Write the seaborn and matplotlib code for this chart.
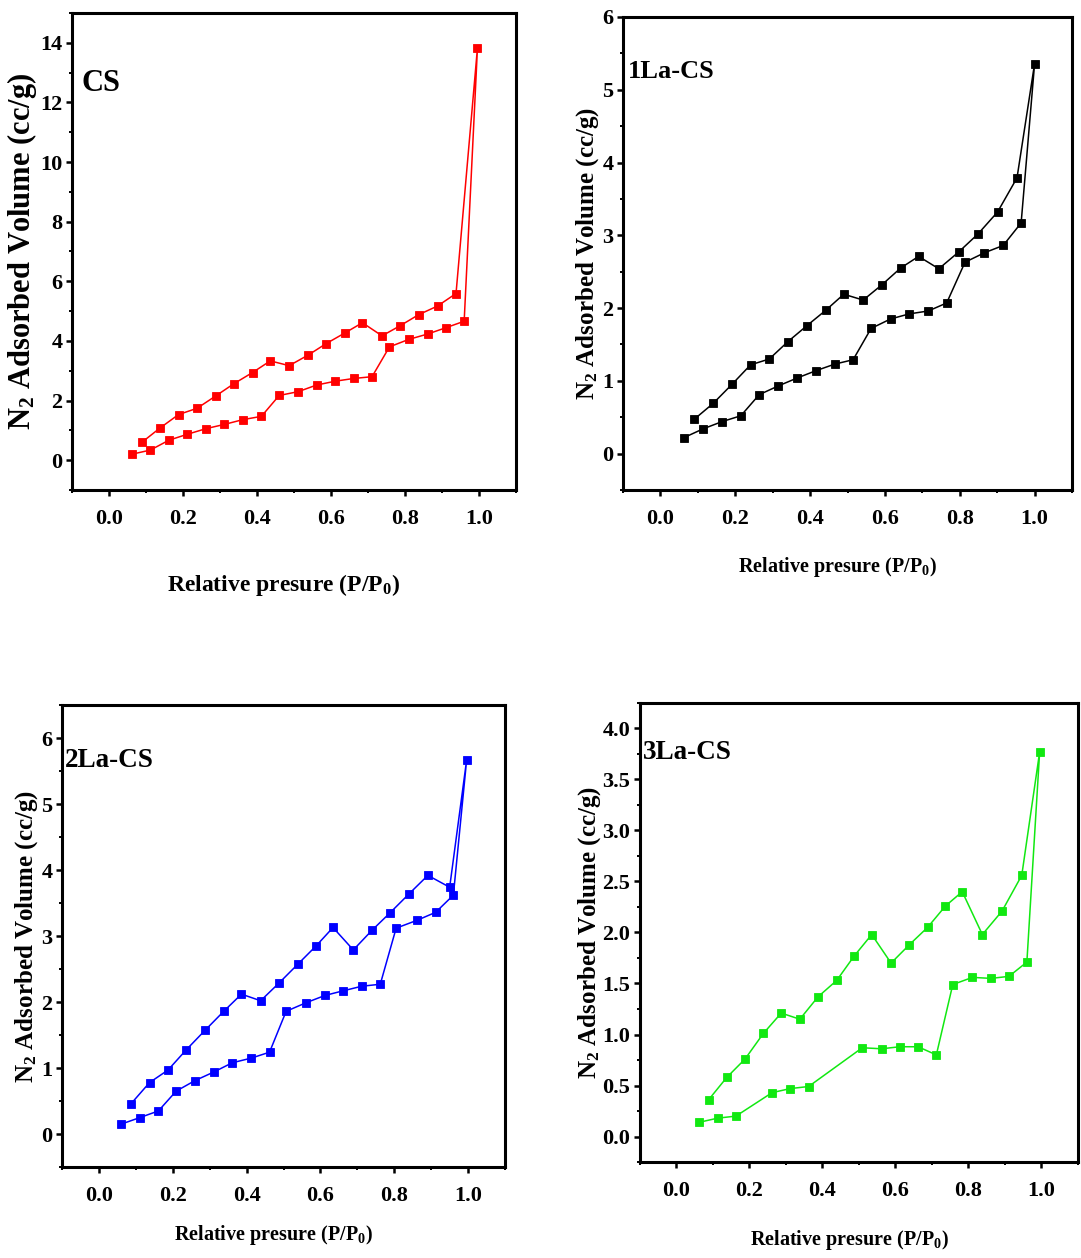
import matplotlib
matplotlib.use("Agg")
import matplotlib.pyplot as plt
from matplotlib.ticker import MultipleLocator, FormatStrFormatter
import pandas as pd
import seaborn as sns

# ---- N2 adsorption / desorption isotherms ----
# CS
cs_p_ads = [0.062, 0.112, 0.162, 0.212, 0.263, 0.312, 0.362, 0.412, 0.460, 0.512,
            0.561, 0.612, 0.661, 0.711, 0.758, 0.810, 0.861, 0.910, 0.960, 0.996]
cs_v_ads = [0.20, 0.34, 0.67, 0.87, 1.06, 1.20, 1.36, 1.47, 2.17, 2.30,
            2.52, 2.65, 2.74, 2.80, 3.80, 4.05, 4.23, 4.44, 4.66, 13.84]
cs_p_des = [0.938, 0.888, 0.837, 0.787, 0.738, 0.685, 0.638, 0.587, 0.539, 0.487,
            0.436, 0.388, 0.337, 0.288, 0.238, 0.188, 0.138, 0.089]
cs_v_des = [5.59, 5.17, 4.88, 4.51, 4.17, 4.61, 4.27, 3.91, 3.53, 3.17,
            3.33, 2.94, 2.56, 2.15, 1.74, 1.53, 1.08, 0.60]

# 1La-CS
la1_p_ads = [0.063, 0.114, 0.165, 0.215, 0.264, 0.315, 0.366, 0.416, 0.466, 0.515,
             0.563, 0.615, 0.665, 0.716, 0.765, 0.814, 0.866, 0.916, 0.964, 1.000]
la1_v_ads = [0.22, 0.34, 0.44, 0.52, 0.81, 0.93, 1.04, 1.14, 1.23, 1.29,
             1.72, 1.85, 1.92, 1.96, 2.07, 2.63, 2.76, 2.86, 3.17, 5.36]
la1_p_des = [0.953, 0.901, 0.849, 0.797, 0.744, 0.690, 0.642, 0.592, 0.542, 0.490,
             0.442, 0.392, 0.341, 0.291, 0.241, 0.191, 0.141, 0.090]
la1_v_des = [3.79, 3.32, 3.02, 2.77, 2.54, 2.71, 2.55, 2.32, 2.11, 2.19,
             1.97, 1.76, 1.54, 1.30, 1.22, 0.95, 0.69, 0.47]

# 2La-CS
la2_p_ads = [0.060, 0.111, 0.161, 0.209, 0.260, 0.311, 0.361, 0.412, 0.462, 0.507,
             0.561, 0.612, 0.661, 0.712, 0.762, 0.805, 0.862, 0.912, 0.960, 0.996]
la2_v_ads = [0.15, 0.25, 0.35, 0.65, 0.81, 0.94, 1.08, 1.15, 1.24, 1.86,
             1.99, 2.10, 2.17, 2.24, 2.27, 3.12, 3.24, 3.36, 3.62, 5.67]
la2_p_des = [0.950, 0.891, 0.840, 0.788, 0.740, 0.689, 0.634, 0.588, 0.538, 0.488,
             0.438, 0.386, 0.338, 0.287, 0.237, 0.187, 0.137, 0.087]
la2_v_des = [3.74, 3.92, 3.64, 3.35, 3.09, 2.79, 3.13, 2.85, 2.57, 2.29,
             2.02, 2.12, 1.86, 1.57, 1.28, 0.97, 0.78, 0.46]

# 3La-CS
la3_p_ads = [0.063, 0.113, 0.163, 0.262, 0.312, 0.362, 0.509, 0.562, 0.612, 0.662,
             0.712, 0.757, 0.811, 0.862, 0.911, 0.960, 0.995]
la3_v_ads = [0.14, 0.18, 0.20, 0.43, 0.47, 0.49, 0.87, 0.86, 0.88, 0.88,
             0.80, 1.49, 1.56, 1.55, 1.57, 1.71, 3.77]
la3_p_des = [0.946, 0.892, 0.838, 0.783, 0.737, 0.688, 0.638, 0.588, 0.535, 0.487,
             0.439, 0.388, 0.338, 0.287, 0.238, 0.188, 0.138, 0.088]
la3_v_des = [2.56, 2.21, 1.98, 2.40, 2.26, 2.05, 1.88, 1.70, 1.98, 1.77,
             1.53, 1.37, 1.15, 1.21, 1.01, 0.76, 0.58, 0.36]

sample_names = ["CS", "1La-CS", "2La-CS", "3La-CS"]
sample_colors = ["#ff0000", "#000000", "#0000ff", "#11e811"]

sns.set_theme(style="ticks")
plt.rcParams.update({
    "font.family": ["Liberation Serif", "DejaVu Serif"],
    "font.weight": "bold",
    "mathtext.fontset": "custom",
    "mathtext.rm": "Liberation Serif:bold",
    "mathtext.bf": "Liberation Serif:bold",
    "mathtext.it": "Liberation Serif:bold:italic",
    "text.color": "black",
    "axes.labelcolor": "black",
    "axes.linewidth": 2.2,
    "axes.edgecolor": "black",
    "xtick.direction": "out",
    "ytick.direction": "out",
    "xtick.color": "black",
    "ytick.color": "black",
    "xtick.labelcolor": "black",
    "ytick.labelcolor": "black",
})

fig = plt.figure(figsize=(10.81, 12.58), dpi=100)

panels = [
    dict(rect=[0.0666, 0.6105, 0.4107, 0.3792],
         p_ads=cs_p_ads, v_ads=cs_v_ads, p_des=cs_p_des, v_des=cs_v_des,
         ylim=(-1, 15), ymaj=2, ymin=1, yfmt="%d",
         label_xy=(0.0225, 0.853), label_fs=22,
         xlab_fs=17, xlab_y=-0.200, ylab_fs=22, ylab_x=-0.113),
    dict(rect=[0.5763, 0.6105, 0.4154, 0.3760],
         p_ads=la1_p_ads, v_ads=la1_v_ads, p_des=la1_p_des, v_des=la1_v_des,
         ylim=(-0.5, 6), ymaj=1, ymin=0.5, yfmt="%d",
         label_xy=(0.011, 0.884), label_fs=19,
         xlab_fs=14.5, xlab_y=-0.162, ylab_fs=18, ylab_x=-0.078),
    dict(rect=[0.0574, 0.0723, 0.4098, 0.3672],
         p_ads=la2_p_ads, v_ads=la2_v_ads, p_des=la2_p_des, v_des=la2_v_des,
         ylim=(-0.5, 6.5), ymaj=1, ymin=0.5, yfmt="%d",
         label_xy=(0.007, 0.881), label_fs=19.5,
         xlab_fs=14.5, xlab_y=-0.147, ylab_fs=18, ylab_x=-0.079),
    dict(rect=[0.5920, 0.0763, 0.4052, 0.3649],
         p_ads=la3_p_ads, v_ads=la3_v_ads, p_des=la3_p_des, v_des=la3_v_des,
         ylim=(-0.25, 4.25), ymaj=0.5, ymin=0.25, yfmt="%.1f",
         label_xy=(0.007, 0.893), label_fs=19.5,
         xlab_fs=14.5, xlab_y=-0.170, ylab_fs=18, ylab_x=-0.114),
]

for name, color, pan in zip(sample_names, sample_colors, panels):
    ax = fig.add_axes(pan["rect"])
    # adsorption branch followed by the desorption branch, drawn as one path
    df = pd.DataFrame({
        "p": list(pan["p_ads"]) + list(pan["p_des"]),
        "v": list(pan["v_ads"]) + list(pan["v_des"]),
    })
    sns.lineplot(data=df, x="p", y="v", sort=False, estimator=None, ax=ax,
                 color=color, linewidth=1.1, marker="s", markersize=5.8,
                 markeredgecolor=color, markeredgewidth=0.6)

    ax.set_xlim(-0.1, 1.1)
    ax.set_ylim(*pan["ylim"])
    ax.xaxis.set_major_locator(MultipleLocator(0.2))
    ax.xaxis.set_minor_locator(MultipleLocator(0.1))
    ax.xaxis.set_major_formatter(FormatStrFormatter("%.1f"))
    ax.yaxis.set_major_locator(MultipleLocator(pan["ymaj"]))
    ax.yaxis.set_minor_locator(MultipleLocator(pan["ymin"]))
    ax.yaxis.set_major_formatter(FormatStrFormatter(pan["yfmt"]))

    for side in ["top", "right", "bottom", "left"]:
        ax.spines[side].set_visible(True)
        ax.spines[side].set_linewidth(2.2)
        ax.spines[side].set_color("black")
    ax.tick_params(axis="both", which="major", length=4, width=1.8,
                   labelsize=16, top=False, right=False, colors="black")
    ax.tick_params(axis="x", which="major", pad=10)
    ax.tick_params(axis="y", which="major", pad=3)
    ax.tick_params(axis="both", which="minor", length=2.5, width=1.4,
                   top=False, right=False, colors="black")
    for lab in ax.get_xticklabels() + ax.get_yticklabels():
        lab.set_fontweight("bold")

    ax.set_xlabel("Relative presure (P/P$_{0}$)", fontsize=pan["xlab_fs"],
                  fontweight="bold", color="black")
    ax.xaxis.set_label_coords(0.477, pan["xlab_y"])
    ax.xaxis.label.set_verticalalignment("center")
    ax.set_ylabel("N$_{2}$ Adsorbed Volume (cc/g)", fontsize=pan["ylab_fs"],
                  fontweight="bold", color="black")
    ax.yaxis.set_label_coords(pan["ylab_x"], 0.5)
    ax.yaxis.label.set_verticalalignment("center")

    ax.text(pan["label_xy"][0], pan["label_xy"][1], name, transform=ax.transAxes,
            ha="left", va="center", fontsize=pan["label_fs"], fontweight="bold",
            color="black")

fig.savefig("out.png", dpi=100)
